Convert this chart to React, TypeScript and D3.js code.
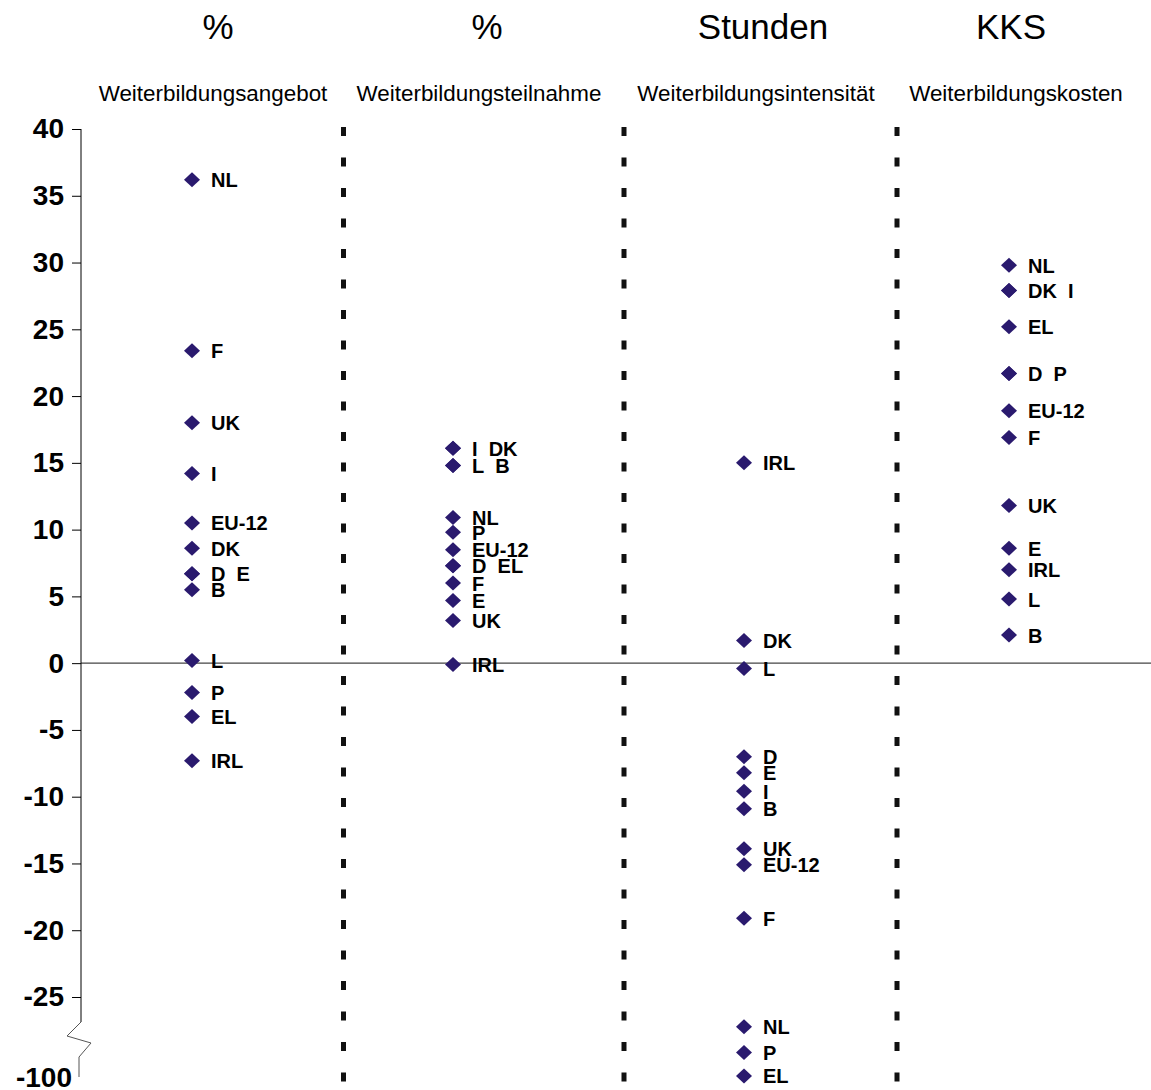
import { useEffect, useRef } from 'react';
import * as d3 from 'd3';

// Categories (columns) and their units
const columns = ['Weiterbildungsangebot', 'Weiterbildungsteilnahme', 'Weiterbildungsintensität', 'Weiterbildungskosten'];
const units = ['%', '%', 'Stunden', 'KKS'];

// Y axis ticks (linear part) and the value below the break
const yTicks = [40, 35, 30, 25, 20, 15, 10, 5, 0, -5, -10, -15, -20, -25];
const breakLabel = -100;

// Series: one list of countries + one list of values per column
const angebotCountries = ['NL', 'F', 'UK', 'I', 'EU-12', 'DK', 'D', 'E', 'B', 'L', 'P', 'EL', 'IRL'];
const angebotValues = [36.2, 23.4, 18.0, 14.2, 10.5, 8.6, 6.7, 6.7, 5.5, 0.2, -2.2, -4.0, -7.3];

const teilnahmeCountries = ['I', 'DK', 'L', 'B', 'NL', 'P', 'EU-12', 'D', 'EL', 'F', 'E', 'UK', 'IRL'];
const teilnahmeValues = [16.1, 16.1, 14.8, 14.8, 10.9, 9.8, 8.5, 7.3, 7.3, 6.0, 4.7, 3.2, -0.1];

const intensitaetCountries = ['IRL', 'DK', 'L', 'D', 'E', 'I', 'B', 'UK', 'EU-12', 'F', 'NL', 'P', 'EL'];
const intensitaetValues = [15.0, 1.7, -0.4, -7.0, -8.2, -9.6, -10.9, -13.9, -15.1, -19.1, -53, -77, -99];

const kostenCountries = ['NL', 'DK', 'I', 'EL', 'D', 'P', 'EU-12', 'F', 'UK', 'E', 'IRL', 'L', 'B'];
const kostenValues = [29.8, 27.9, 27.9, 25.2, 21.7, 21.7, 18.9, 16.9, 11.8, 8.6, 7.0, 4.8, 2.1];

const seriesCountries = [angebotCountries, teilnahmeCountries, intensitaetCountries, kostenCountries];
const seriesValues = [angebotValues, teilnahmeValues, intensitaetValues, kostenValues];

const FONT = "'Liberation Sans', Arial, Helvetica, sans-serif";

function App() {
  const ref = useRef(null);
  const width = 1151;
  const height = 1090;

  useEffect(() => {
    const svg = d3.select(ref.current);
    svg.selectAll('*').remove();

    const axisX = 81;
    const markerColor = '#2a1a6e';

    // Piecewise scale: the axis is broken between -25 and -100
    const y = d3.scaleLinear().domain([breakLabel, -25, 40]).range([1077, 997, 129]);

    // Column positions
    const xCol = d3.scaleOrdinal<string, number>().domain(columns).range([192, 453, 744, 1009]);
    const xHead = d3.scaleOrdinal<string, number>().domain(columns).range([218, 487, 763, 1011]);
    const xSub = d3.scaleOrdinal<string, number>().domain(columns).range([213, 479, 756, 1016]);
    const separators = [343.5, 624, 897];

    // Headers
    svg.selectAll('text.unit')
      .data(columns)
      .join('text')
      .attr('class', 'unit')
      .attr('x', (d) => xHead(d))
      .attr('y', 39)
      .attr('text-anchor', 'middle')
      .attr('font-family', FONT)
      .attr('font-size', 35)
      .attr('fill', '#000')
      .text((_, i) => units[i]);

    svg.selectAll('text.sub')
      .data(columns)
      .join('text')
      .attr('class', 'sub')
      .attr('x', (d) => xSub(d))
      .attr('y', 101)
      .attr('text-anchor', 'middle')
      .attr('font-family', FONT)
      .attr('font-size', 22.4)
      .attr('fill', '#000')
      .text((d) => d);

    // Dashed separators
    svg.selectAll('line.sep')
      .data(separators)
      .join('line')
      .attr('class', 'sep')
      .attr('x1', (d) => d).attr('x2', (d) => d)
      .attr('y1', 127).attr('y2', height)
      .attr('stroke', '#111')
      .attr('stroke-width', 5)
      .attr('stroke-dasharray', '9 21.5');

    // Zero line
    svg.append('line')
      .attr('x1', axisX).attr('x2', width)
      .attr('y1', y(0)).attr('y2', y(0))
      .attr('stroke', '#444')
      .attr('stroke-width', 1.2);

    // Y axis (upper part)
    const axisG = svg.append('g').attr('transform', `translate(${axisX},0)`);
    const yAxis = d3.axisLeft(y)
      .tickValues(yTicks)
      .tickSize(9)
      .tickPadding(8)
      .tickFormat((d) => String(d));
    axisG.call(yAxis as any);
    axisG.select('.domain').remove();
    axisG.selectAll('.tick line').attr('stroke', '#000');
    axisG.selectAll('.tick text')
      .attr('font-family', FONT)
      .attr('font-size', 28)
      .attr('font-weight', 'bold')
      .attr('fill', '#000');

    axisG.append('line')
      .attr('x1', 0).attr('x2', 0)
      .attr('y1', y(40)).attr('y2', 1022)
      .attr('stroke', '#000');

    // Break zigzag and lower part
    const brk = d3.line()([
      [axisX, 1022], [axisX - 14, 1036], [axisX + 10, 1043], [axisX - 2, 1057], [axisX - 2, y(breakLabel)],
    ]);
    svg.append('path')
      .attr('d', brk)
      .attr('fill', 'none')
      .attr('stroke', '#555')
      .attr('stroke-width', 1);

    svg.append('text')
      .attr('x', 72)
      .attr('y', y(breakLabel) + 10)
      .attr('text-anchor', 'end')
      .attr('font-family', FONT)
      .attr('font-size', 28)
      .attr('font-weight', 'bold')
      .attr('fill', '#000')
      .text(String(breakLabel));

    // Points and labels
    const diamond = 'M0,-7.5L8,0L0,7.5L-8,0Z';

    columns.forEach((col, ci) => {
      const countries = seriesCountries[ci];
      const values = seriesValues[ci];
      const pts = countries.map((c, i) => ({ c, v: values[i] }));

      const g = svg.append('g');
      g.selectAll('path')
        .data(pts)
        .join('path')
        .attr('d', diamond)
        .attr('transform', (d) => `translate(${xCol(col)},${y(d.v)})`)
        .attr('fill', markerColor);

      // Coincident values share a label
      const groups = d3.groups(pts, (d) => d.v);
      g.selectAll('text')
        .data(groups)
        .join('text')
        .attr('x', xCol(col) + 19)
        .attr('y', (d) => y(d[0]) + 7.5)
        .attr('font-family', FONT)
        .attr('font-size', 20)
        .attr('font-weight', 'bold')
        .attr('fill', '#000')
        .style('white-space', 'pre')
        .text((d) => d[1].map((p) => p.c).join('\u00a0\u00a0'));
    });
  }, []);

  return (
    <div style={{ position: 'absolute', left: 0, top: 0 }}>
      <svg width={width} height={height} ref={ref} style={{ display: 'block', background: '#fff' }} />
    </div>
  );
}

export default App;
